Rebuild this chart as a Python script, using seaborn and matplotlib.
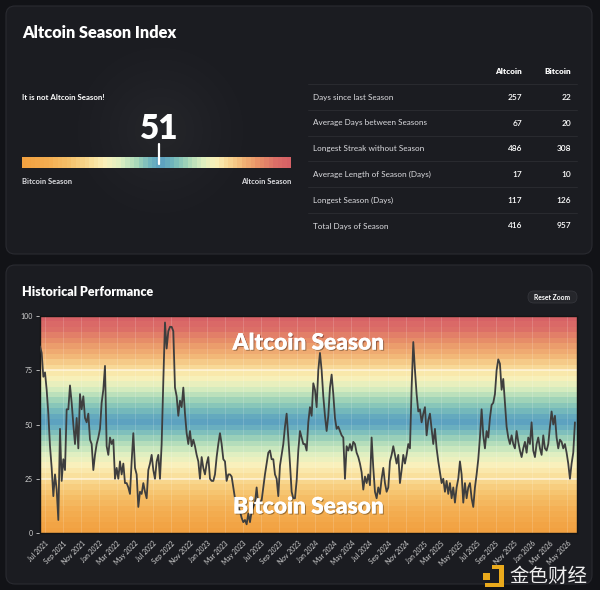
import numpy as np
import pandas as pd
import matplotlib
matplotlib.use("Agg")
import matplotlib.pyplot as plt
import matplotlib.dates as mdates
from matplotlib.colors import LinearSegmentedColormap
from matplotlib.patches import FancyBboxPatch, Rectangle
import matplotlib.patheffects as pe
import seaborn as sns

sns.set_theme(style="dark")
plt.rcParams['font.family'] = ['Lato', 'Noto Sans CJK SC', 'DejaVu Sans']

# ---------------- data ----------------
current_index = 51
status_text = "It is not Altcoin Season!"
stat_labels = ["Days since last Season", "Average Days between Seasons",
               "Longest Streak without Season", "Average Length of Season (Days)",
               "Longest Season (Days)", "Total Days of Season"]
altcoin_stats = [257, 67, 486, 17, 117, 416]
bitcoin_stats = [22, 20, 308, 10, 126, 957]

start_date = "2021-06-14"
end_date = "2026-05-27"
axis_end = "2026-06-03"
index_values = [
    86, 83, 72, 74, 66, 55, 40, 30, 17, 27, 20, 6, 48, 24, 34, 29, 57, 57, 68, 60,
    50, 41, 53, 39, 64, 57, 63, 53, 51, 55, 43, 41, 29, 36, 41, 44, 48, 60, 66, 77,
    40, 36, 44, 41, 43, 25, 30, 25, 33, 27, 32, 23, 23, 21, 18, 33, 46, 30, 27, 12,
    19, 18, 23, 19, 16, 29, 32, 36, 29, 25, 33, 36, 25, 41, 70, 97, 85, 93,
    95, 95, 93, 67, 63, 54, 61, 58, 67, 55, 46, 41, 47, 40, 43, 40, 36, 33, 25, 35,
    30, 27, 32, 35, 25, 24, 24, 27, 35, 41, 46, 41, 34, 33, 24, 27, 27, 26, 21, 16,
    11, 12, 10, 7, 5, 6, 4, 9, 5, 10, 12, 14, 21, 13, 14, 15, 21, 27, 32, 37,
    38, 34, 34, 27, 25, 17, 31, 36, 41, 49, 55, 44, 32, 19, 16, 16, 24, 38, 47, 44, 41,
    41, 38, 51, 58, 54, 69, 66, 58, 75, 83, 75, 63, 54, 47, 54, 67, 73, 64, 53, 48,
    49, 47, 45, 44, 25, 40, 38, 41, 38, 42, 41, 37, 35, 32, 28, 20, 26, 23, 27, 22,
    44, 30, 19, 16, 21, 18, 25, 30, 23, 19, 21, 33, 36, 40, 36, 32, 36, 23, 29, 36,
    32, 36, 41, 39, 67, 88, 75, 64, 56, 57, 51, 55, 58, 45, 52, 55, 48, 41, 48, 39, 33,
    28, 23, 25, 19, 24, 18, 23, 16, 21, 14, 21, 25, 33, 27, 14, 23, 16, 21, 23, 16,
    12, 21, 27, 34, 44, 57, 45, 39, 47, 44, 53, 59, 60, 64, 75, 80, 78, 66, 71, 60,
    49, 44, 41, 45, 41, 39, 47, 42, 38, 35, 39, 42, 37, 44, 41, 51, 38, 35, 41, 44,
    39, 36, 45, 39, 38, 41, 49, 56, 50, 54, 44, 39, 43, 42, 39, 41, 37, 32, 25, 32,
    37, 51,
]
y_ticks = [0, 25, 50, 75, 100]
x_tick_dates = pd.date_range("2021-07-01", "2026-05-01", freq="2MS")

dates = pd.date_range(start_date, end_date, periods=len(index_values))
df = pd.DataFrame({"date": dates, "index": index_values})

# ---------------- style ----------------
BG = "#121317"
PANEL = "#1b1c21"
BORDER = "#2a2b31"
TXT = "#ffffff"
SUB = "#dcdce0"

stops = [(0.00, "#f2a03f"), (0.10, "#f4ae52"), (0.18, "#f6c26c"), (0.25, "#f9dc95"),
         (0.31, "#fbf1bc"), (0.37, "#dcefc2"), (0.43, "#a3d6b8"), (0.48, "#6db3bf"),
         (0.52, "#5b9fc1"), (0.57, "#77bcbb"), (0.62, "#a8d8b8"), (0.67, "#dcefc0"),
         (0.72, "#fbf1b9"), (0.77, "#f8d793"), (0.82, "#f2b676"), (0.88, "#e99368"),
         (0.94, "#dd7068"), (1.00, "#d65f66")]
cmap = LinearSegmentedColormap.from_list("season", stops)

fig = plt.figure(figsize=(6, 5.9), dpi=100)
fig.patch.set_facecolor(BG)

# background axes in pixel coordinates
bg = fig.add_axes([0, 0, 1, 1], zorder=-10)
bg.set_xlim(0, 600)
bg.set_ylim(590, 0)
bg.axis("off")

for (y0, y1) in [(6, 254), (265, 584)]:
    bg.add_patch(FancyBboxPatch((6, y0), 586, y1 - y0,
                                boxstyle="round,pad=0,rounding_size=9",
                                facecolor=PANEL, edgecolor=BORDER, lw=0.8))

# soft glow behind gauge
yy, xx = np.mgrid[0:240, 0:300]
r = np.hypot(xx - 150, yy - 120) / 120
glow = np.zeros((240, 300, 4))
glow[..., :3] = 1.0
glow[..., 3] = np.clip(1 - r, 0, 1) ** 1.5 * 0.045
bg.imshow(glow, extent=(10, 310, 250, 10), aspect="auto", zorder=1)
bg.set_xlim(0, 600)
bg.set_ylim(590, 0)

# top panel texts
bg.text(22, 33, "Altcoin Season Index", fontsize=11.8, fontweight="heavy",
        color=TXT, va="center", ha="left")
bg.text(22, 97, status_text, fontsize=5.7, fontweight="bold", color=TXT,
        va="center", ha="left")
bg.text(159, 129, str(current_index), fontsize=24, fontweight="heavy",
        color=TXT, va="center", ha="center")
bg.text(22, 182, "Bitcoin Season", fontsize=5.5, fontweight="bold", color=SUB,
        va="center", ha="left")
bg.text(291, 182, "Altcoin Season", fontsize=5.5, fontweight="bold", color=SUB,
        va="center", ha="right")

# table
bg.text(522, 72, "Altcoin", fontsize=5.9, fontweight="heavy", color=TXT,
        va="center", ha="right")
bg.text(571, 72, "Bitcoin", fontsize=5.9, fontweight="heavy", color=TXT,
        va="center", ha="right")
row_y = [97.5, 123, 148.7, 174.5, 200.3, 226]
sep_y = [84.3, 110, 135.7, 161.3, 187.3, 213.3]
for sy in sep_y:
    bg.plot([308, 577], [sy, sy], color="#2a2b30", lw=0.7)
for lab, a, b, ry in zip(stat_labels, altcoin_stats, bitcoin_stats, row_y):
    bg.text(313, ry, lab, fontsize=5.9, color=SUB, va="center", ha="left")
    bg.text(522, ry, f"{a}", fontsize=6, fontweight="semibold", color=TXT,
            va="center", ha="right")
    bg.text(571, ry, f"{b}", fontsize=6, fontweight="semibold", color=TXT,
            va="center", ha="right")

# bottom panel header
bg.text(22, 292, "Historical Performance", fontsize=9, fontweight="heavy",
        color=TXT, va="center", ha="left")
bg.add_patch(FancyBboxPatch((528, 291), 49, 12,
                            boxstyle="round,pad=0,rounding_size=6",
                            facecolor="#25262b", edgecolor="#34353b", lw=0.6))
bg.text(552.5, 297.3, "Reset Zoom", fontsize=4.9, fontweight="bold",
        color=TXT, va="center", ha="center")

# watermark
GOLD = "#eaaa1c"
bg.add_patch(Rectangle((483, 573), 6.5, 6.5, facecolor=GOLD, lw=0))
bg.add_patch(Rectangle((492, 565), 12, 4, facecolor=GOLD, lw=0))
bg.add_patch(Rectangle((499, 565), 5, 22, facecolor=GOLD, lw=0))
bg.add_patch(Rectangle((485, 583), 19, 4, facecolor=GOLD, lw=0))
bg.text(548, 576, "金色财经", fontsize=14, color="#eeeeee",
        family=["Noto Sans CJK SC", "DejaVu Sans"], va="center", ha="center")

# ---------------- gauge bar ----------------
ax_g = fig.add_axes([22 / 600, 1 - 168 / 590, 269 / 600, 11 / 590], zorder=1)
steps_g = (np.arange(60) + 0.5) / 60
ax_g.imshow(steps_g[np.newaxis, :], cmap=cmap, vmin=0, vmax=1,
            extent=(0, 100, 0, 1), aspect="auto")
ax_g.set_xlim(0, 100)
ax_g.set_ylim(0, 1)
ax_g.axis("off")
ax_g.plot([current_index, current_index], [0.4, 2.15], color="white", lw=1.6,
          solid_capstyle="round", clip_on=False, zorder=5)

# ---------------- historical chart ----------------
ax = fig.add_axes([40 / 600, 57 / 590, 537 / 600, 217 / 590], zorder=2)
x0 = mdates.date2num(pd.Timestamp(start_date))
x1 = mdates.date2num(pd.Timestamp(axis_end))
steps_c = (np.arange(40) + 0.5) / 40
ax.imshow(steps_c[:, np.newaxis], cmap=cmap, vmin=0, vmax=1, origin="lower",
          extent=(x0, x1, 0, 100), aspect="auto", zorder=0)
for v in [25, 75]:
    ax.axhline(v, color="#fff7e2", lw=1.1, alpha=0.9, zorder=1)
for d in x_tick_dates:
    ax.axvline(mdates.date2num(d), color="white", lw=0.6, alpha=0.18, zorder=1)

sns.lineplot(data=df, x="date", y="index", ax=ax, color="#3e3e3e", lw=1.3,
             zorder=3)

ax.set_xlim(x0, x1)
ax.set_ylim(0, 100)
ax.set_xlabel("")
ax.set_ylabel("")
ax.grid(False)
ax.set_yticks(y_ticks)
ax.set_yticklabels([str(t) for t in y_ticks])
ax.set_xticks([mdates.date2num(d) for d in x_tick_dates])
ax.set_xticklabels([d.strftime("%b %Y") for d in x_tick_dates])
ax.tick_params(axis="y", colors="#d0d0d0", labelsize=5, length=3, width=0.6,
               left=True, pad=2)
ax.tick_params(axis="x", colors="#d4d4d4", labelsize=4.9, length=0, pad=5)
for lbl in ax.get_xticklabels():
    lbl.set_rotation(45)
    lbl.set_ha("right")
    lbl.set_va("top")
    lbl.set_rotation_mode("anchor")
for sp in ax.spines.values():
    sp.set_color("#151515")
    sp.set_linewidth(1.0)

shadow = [pe.withSimplePatchShadow(offset=(0.8, -0.8), shadow_rgbFace="#000000",
                                   alpha=0.35), pe.Normal()]
ax.text(0.5, 0.875, "Altcoin Season", transform=ax.transAxes, fontsize=16.3,
        fontweight="heavy", color="white", ha="center", va="center",
        path_effects=shadow, zorder=4)
ax.text(0.5, 0.12, "Bitcoin Season", transform=ax.transAxes, fontsize=16.3,
        fontweight="heavy", color="white", ha="center", va="center",
        path_effects=shadow, zorder=4)

fig.savefig("out.png", dpi=100, facecolor=fig.get_facecolor())
